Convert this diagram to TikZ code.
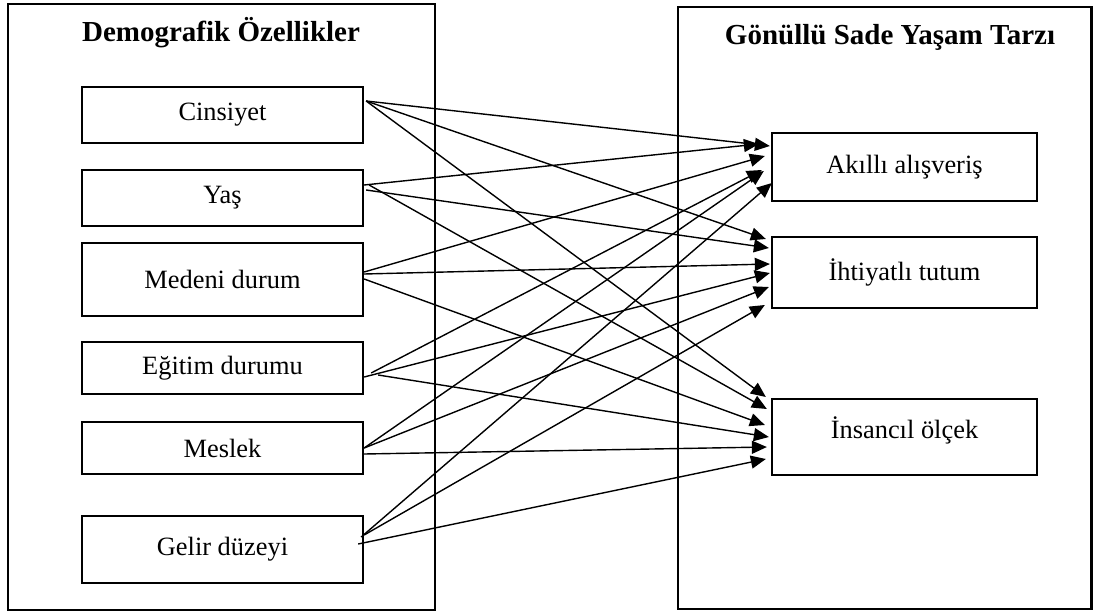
\documentclass[tikz,border=0pt]{standalone}
\usepackage{fontspec}
\setmainfont{Liberation Serif}
\usetikzlibrary{arrows.meta,calc}

\begin{document}
\begin{tikzpicture}[x=1pt,y=-1pt,
  outerbox/.style={draw, line width=2.6pt, inner sep=0pt},
  itembox/.style={draw, line width=2.3pt, inner sep=0pt, minimum width=281pt,
    font=\fontsize{26.4}{30}\selectfont},
  goalbox/.style={draw, line width=2.3pt, inner sep=0pt, minimum width=265pt,
    font=\fontsize{26.4}{30}\selectfont},
  heading/.style={font=\fontsize{29}{33}\selectfont\bfseries, inner sep=0pt},
  plain/.style={font=\fontsize{26.4}{30}\selectfont, inner sep=0pt},
  link/.style={line width=1.4pt, -{Triangle[length=15pt,width=13pt]}}
]
\useasboundingbox (0,0) rectangle (1094,615);

% group frames
\node[outerbox, minimum width=427pt, minimum height=606pt] (demo) at (221.5,307) {};
\node[outerbox, minimum width=413.5pt, minimum height=602pt] (gsyt) at (884.75,308) {};
\node[heading] (demotitle) at (221,33) {Demografik Özellikler};
\node[heading] (gsyttitle) at (890,37) {Gönüllü Sade Yaşam Tarzı};

% demographic variables
\node[itembox, minimum height=56pt] (cins)   at (222.5,115)   {Cinsiyet};
\node[itembox, minimum height=56pt] (yas)    at (222.5,198)   {Yaş};
\node[itembox, minimum height=73pt] (medeni) at (222.5,279.5) {Medeni durum};
\node[itembox, minimum height=52pt] (egitim) at (222.5,368)   {Eğitim durumu};
\node[itembox, minimum height=52pt] (meslek) at (222.5,448)   {Meslek};
\node[itembox, minimum height=67pt] (gelir)  at (222.5,549.5) {Gelir düzeyi};

% lifestyle dimensions
\node[goalbox, minimum height=68pt] (akilli)  at (904.5,167)   {Akıllı alışveriş};
\node[goalbox, minimum height=71pt] (ihtiyat) at (904.5,272.5) {İhtiyatlı tutum};
\node[goalbox, minimum height=76pt] (insan)   at (904.5,437)   {};
\node[plain] (insantext) at ($(insan.center)+(0,-7)$) {İnsancıl ölçek};

% Cinsiyet
\draw[link] ($(cins.east)+(2,-14)$) -- ($(akilli.west)+(-1,-21)$);
\draw[link] ($(cins.east)+(2,-14)$) -- ($(ihtiyat.west)+(-5,-33.5)$);
\draw[link] ($(cins.east)+(2,-14)$) -- ($(insan.west)+(-5,-40)$);
% Yaş
\draw[link] ($(yas.east)+(0,-13)$) -- ($(akilli.west)+(-12,-23)$);
\draw[link] ($(yas.east)+(2,-8)$)  -- ($(ihtiyat.west)+(-2,-24.5)$);
\draw[link] ($(yas.east)+(5,-13)$) -- ($(insan.west)+(-4,-28)$);
% Medeni durum
\draw[link] ($(medeni.east)+(0,-7.5)$) -- ($(akilli.west)+(-6,-11)$);
\draw[link] ($(medeni.east)+(0,-5.5)$) -- ($(ihtiyat.west)+(-1,-8.5)$);
\draw[link] ($(medeni.east)+(0,-0.5)$) -- ($(insan.west)+(-6,-12)$);
% Eğitim durumu
\draw[link] ($(egitim.east)+(7,5)$)  -- ($(akilli.west)+(-9,3)$);
\draw[link] ($(egitim.east)+(0,9)$)  -- ($(ihtiyat.west)+(-1,0.5)$);
\draw[link] ($(egitim.east)+(14,7)$) -- ($(insan.west)+(-2,0)$);
% Meslek
\draw[link] ($(meslek.east)+(0,0)$) -- ($(akilli.west)+(-7,4)$);
\draw[link] ($(meslek.east)+(0,0)$) -- ($(ihtiyat.west)+(-2,14.5)$);
\draw[link] ($(meslek.east)+(0,6)$) -- ($(insan.west)+(-4,10)$);
% Gelir düzeyi
\draw[link] ($(gelir.east)+(-3,-12.5)$) -- ($(akilli.west)+(1,16)$);
\draw[link] ($(gelir.east)+(0,-14.5)$)  -- ($(ihtiyat.west)+(-6,32.5)$);
\draw[link] ($(gelir.east)+(-6,-5.5)$)  -- ($(insan.west)+(-5,22)$);
\end{tikzpicture}
\end{document}
